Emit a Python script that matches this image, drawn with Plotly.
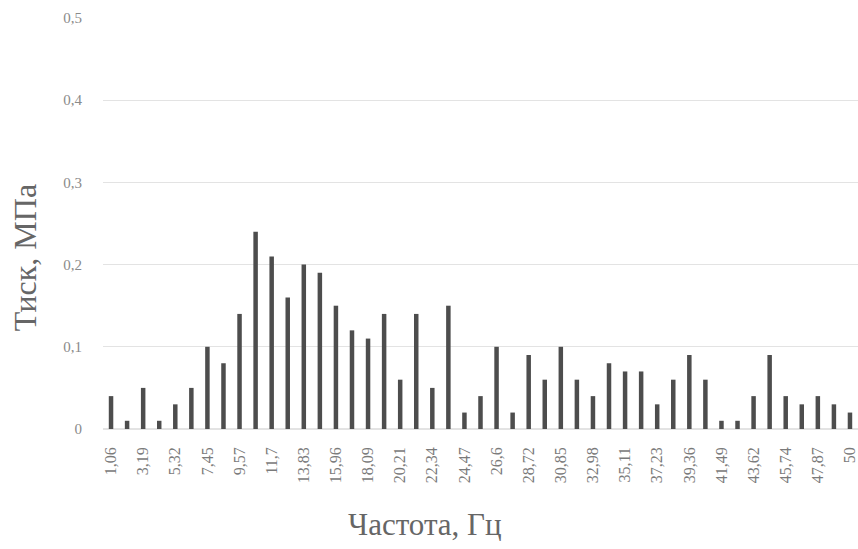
import plotly.graph_objects as go

# Frequencies (Hz) of the spectrum bins, written with a decimal comma
freq_labels = [
    "1,06", "2,13", "3,19", "4,26", "5,32", "6,38", "7,45", "8,51", "9,57", "10,64",
    "11,7", "12,77", "13,83", "14,89", "15,96", "17,02", "18,09", "19,15", "20,21", "21,28",
    "22,34", "23,4", "24,47", "25,53", "26,6", "27,66", "28,72", "29,79", "30,85", "31,91",
    "32,98", "34,04", "35,11", "36,17", "37,23", "38,3", "39,36", "40,43", "41,49", "42,55",
    "43,62", "44,68", "45,74", "46,81", "47,87", "48,94", "50",
]

# Pressure amplitude (MPa) per bin
pressure = [
    0.04, 0.01, 0.05, 0.01, 0.03, 0.05, 0.10, 0.08, 0.14, 0.24,
    0.21, 0.16, 0.20, 0.19, 0.15, 0.12, 0.11, 0.14, 0.06, 0.14,
    0.05, 0.15, 0.02, 0.04, 0.10, 0.02, 0.09, 0.06, 0.10, 0.06,
    0.04, 0.08, 0.07, 0.07, 0.03, 0.06, 0.09, 0.06, 0.01, 0.01,
    0.04, 0.09, 0.04, 0.03, 0.04, 0.03, 0.02,
]

y_ticks = [0, 0.1, 0.2, 0.3, 0.4, 0.5]
y_tick_text = ["0", "0,1", "0,2", "0,3", "0,4", "0,5"]

# every second bin is labelled on the axis
shown_ticks = freq_labels[::2]

serif = "Liberation Serif, DejaVu Serif, serif"

fig = go.Figure(
    go.Bar(
        x=freq_labels,
        y=pressure,
        marker=dict(color="#4d4d4d", line=dict(width=0)),
    )
)

fig.update_layout(
    width=858,
    height=549,
    margin=dict(l=103, r=0, t=18, b=120),
    paper_bgcolor="white",
    plot_bgcolor="white",
    bargap=0.72,
    showlegend=False,
    font=dict(family=serif, color="#7f7f7f"),
)

fig.update_xaxes(
    type="category",
    tickmode="array",
    tickvals=shown_ticks,
    ticktext=shown_ticks,
    tickangle=-90,
    tickfont=dict(size=16, color="#7a7a7a", family=serif),
    showgrid=False,
    showline=False,
    ticks="",
    ticklabelstandoff=14,
)

fig.update_yaxes(
    range=[0, 0.5],
    tickmode="array",
    tickvals=y_ticks,
    ticktext=y_tick_text,
    tickfont=dict(size=15, color="#8a8a8a", family=serif),
    showgrid=True,
    gridcolor="#e3e3e3",
    gridwidth=1,
    zeroline=True,
    zerolinecolor="#e3e3e3",
    showline=False,
    ticks="",
    ticklabelstandoff=20,
)

# axis titles
fig.add_annotation(
    text="Тиск, МПа",
    xref="paper", yref="paper",
    x=-0.103, y=0.416,
    xanchor="center", yanchor="middle",
    textangle=-90,
    showarrow=False,
    font=dict(family=serif, size=32, color="#666666"),
)
fig.add_annotation(
    text="Частота, Гц",
    xref="paper", yref="paper",
    x=0.4265, y=-0.233,
    xanchor="center", yanchor="middle",
    showarrow=False,
    font=dict(family=serif, size=31, color="#666666"),
)

fig.write_html("out.html")
